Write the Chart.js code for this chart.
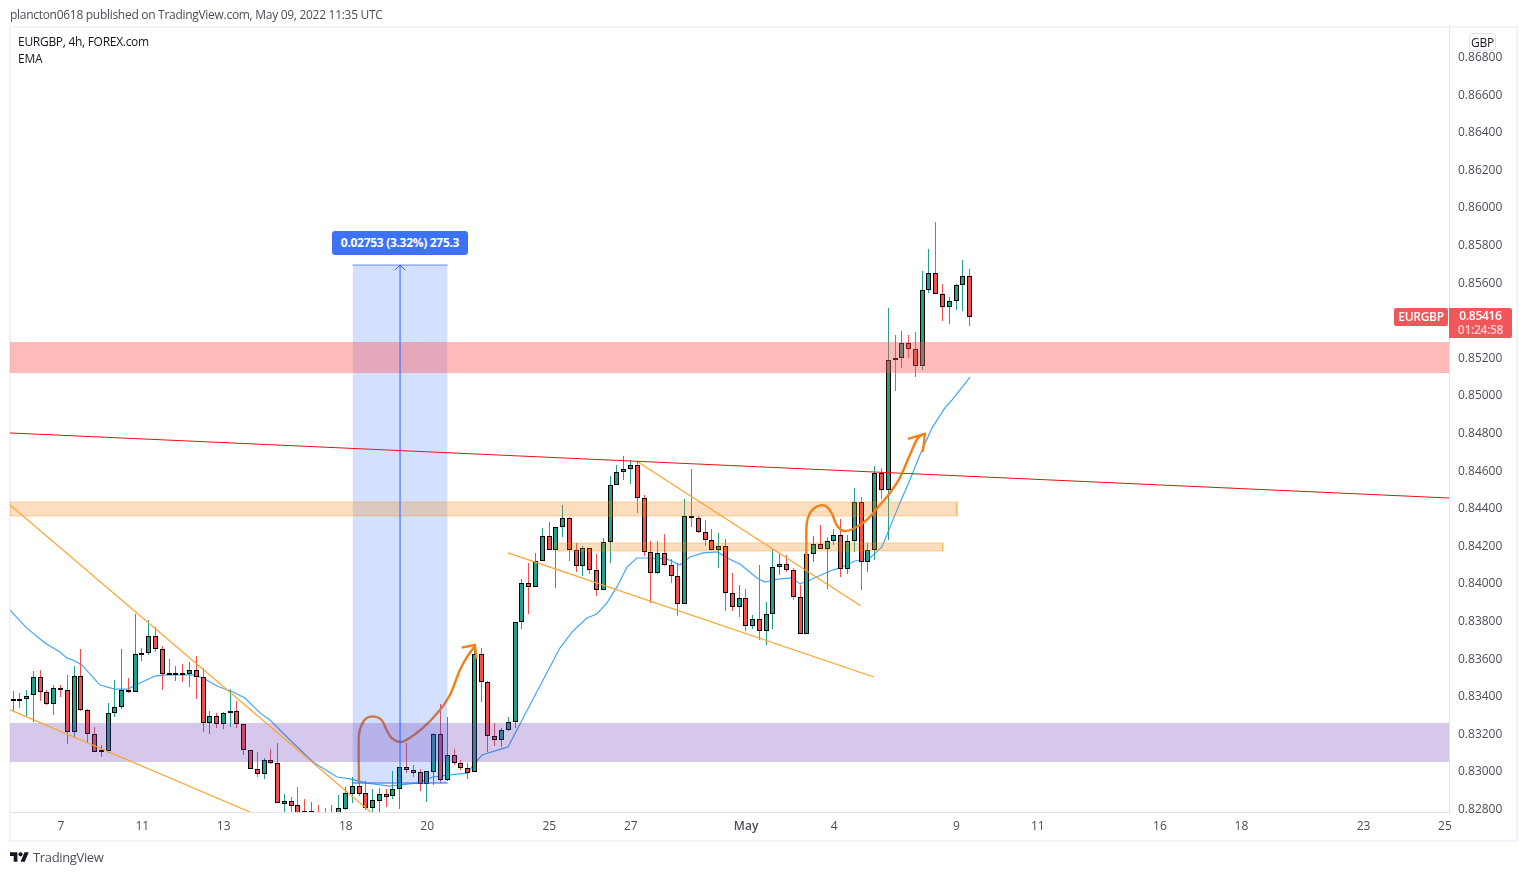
<!DOCTYPE html>
<html><head><meta charset="utf-8">
<script src="https://cdn.jsdelivr.net/npm/chart.js@4"></script>
<style>
html,body{margin:0;padding:0;background:#fff;width:1527px;height:875px;overflow:hidden;font-family:"Open Sans",sans-serif}
#frame{position:absolute;left:9px;top:26px;width:1505px;height:812px;border:2px solid #f0f3fa}
canvas{position:absolute;left:0;top:0}
.t{position:absolute;white-space:nowrap;font-size:12px;line-height:16px;color:#4a4e5a;letter-spacing:-.29px}
.b{position:absolute;text-align:center;white-space:nowrap;font-size:12px;color:#fff;box-sizing:border-box;letter-spacing:-.3px}
</style></head><body>
<div id="frame"></div>
<canvas id="c" width="1527" height="875"></canvas>
<div class="t" style="left:10px;top:7px">plancton0618 published on TradingView.com, May 09, 2022 11:35 UTC</div>
<div class="t" style="left:18px;top:34px;color:#131722">EURGBP, 4h, FOREX.com</div>
<div class="t" style="left:18px;top:51px;color:#131722">EMA</div>
<div class="b" style="left:1469px;top:33px;width:27px;height:18px;line-height:17px;background:#fff;border:1px solid #e0e3eb;border-radius:4px;color:#131722">GBP</div>
<div class="b" style="left:332px;top:231px;width:136px;height:24px;line-height:23px;background:#3d72f5;border-radius:3px;font-weight:700">0.02753 (3.32%) 275.3</div>
<div class="b" style="left:1394px;top:308px;width:54px;height:18px;line-height:18px;background:#f0565a;border-radius:2px;font-weight:600">EURGBP</div>
<div class="b" style="left:1449px;top:308px;width:63px;height:30px;background:#f0565a;border-radius:0 2px 2px 0;line-height:14px;padding-top:1px;font-weight:600">0.85416<br><span style="opacity:.72">01:24:58</span></div>
<svg style="position:absolute;left:10px;top:852px" width="19" height="11" viewBox="0 0 36 20"><path fill="#131722" d="M14 18H7V7H0V0h14zM28 18h-8L27.5 0h8z"/><circle cx="20" cy="4" r="4" fill="#131722"/></svg>
<div class="t" style="left:33px;top:849px;font-size:13px;color:#4a4e5a;letter-spacing:-.35px">TradingView</div>
<script>
const opens=[.83382,.83385,.83382,.83403,.83499,.83419,.83355,.83440,.83430,.83210,.83504,.83323,.83195,.83105,.83109,.83307,.83339,.83430,.83419,.83621,.83626,.83717,.83648,.83515,.83518,.83522,.83518,.83536,.83499,.83254,.83291,.83249,.83307,.83318,.83249,.83110,
.83010,.82986,.83057,.83044,.82826,.82838,.82817,.82785,.82781,.82784,.82766,.82760,.82757,.82799,.82879,.82920,.82881,.82805,.82842,.82876,.82865,.82902,.83019,.83003,.82993,.82931,.82996,.83197,.82950,.83083,.83044,.83014,.82993,.83620,.83471,.83184,.83163,.83216,.83259,
.83790,.83998,.83977,.84115,.84248,.84173,.84296,.84344,.84173,.84088,.84184,.84067,.83961,.84216,.84519,.84588,.84604,.84625,.84450,.84163,.84051,.84157,.84094,.84035,.83886,.84354,.84344,.84269,.84227,.84173,
.84195,.83945,.83874,.83918,.83769,.83806,.83742,.83833,.84083,.84099,.84067,.83923,.83727,.84152,.84205,.84182,.84221,.84253,.84072,.84221,.84429,.84109,.84173,.84583,.84492,
.85195,.85195,.85275,.85243,.85156,.85557,.85647,.85535,.85466,.85498,.85583,.85631];
const closes=[.83385,.83382,.83401,.83499,.83419,.83355,.83440,.83430,.83210,.83504,.83323,.83195,.83103,.83110,.83307,.83339,.83430,.83419,.83621,.83626,.83717,.83648,.83515,.83520,.83522,.83518,.83536,.83499,.83254,.83291,.83249,.83307,.83318,.83249,.83110,.83009,
.82986,.83057,.83044,.82828,.82838,.82815,.82775,.82778,.82785,.82778,.82750,.82775,.82801,.82881,.82920,.82879,.82803,.82844,.82876,.82863,.82902,.83021,.83003,.82991,.82931,.82998,.83197,.82950,.83083,.83044,.83014,.82991,.83620,.83471,.83184,.83163,.83216,.83259,.83791,
.83998,.83977,.84115,.84248,.84173,.84296,.84344,.84173,.84088,.84184,.84067,.83961,.84216,.84519,.84588,.84604,.84625,.84450,.84163,.84051,.84157,.84094,.84035,.83886,.84354,.84344,.84269,.84227,.84173,.84195,
.83945,.83874,.83918,.83769,.83806,.83742,.83833,.84083,.84099,.84067,.83923,.83727,.84152,.84205,.84182,.84221,.84253,.84072,.84221,.84429,.84109,.84173,.84583,.84492,.85184,
.85184,.85275,.85243,.85156,.85557,.85647,.85535,.85466,.85498,.85583,.85631,.85416];
const highs=[.83428,.83414,.83431,.83532,.83538,.83431,.83458,.83458,.83511,.83559,.83648,.83330,.83234,.83139,.83362,.83484,.83648,.83493,.83836,.83653,.83804,.83765,.83665,.83594,.83559,.83570,.83580,.83612,.83547,.83320,.83307,.83316,.83435,.83373,.83250,.83110,
.83103,.83071,.83115,.83147,.82878,.82860,.82913,.82851,.82833,.82819,.82801,.82817,.82872,.82916,.82966,.82934,.82948,.82904,.82909,.82904,.83002,.83021,.83151,.83030,.83010,.82998,.83204,.83356,.83287,.83115,.83058,.83044,.83670,.83654,.83479,.83255,.83227,.83285,.83791,
.84019,.84106,.84159,.84290,.84324,.84296,.84414,.84349,.84211,.84196,.84184,.84154,.84237,.84567,.84627,.84675,.84654,.84648,.84468,.84223,.84223,.84260,.84127,.84104,.84445,.84606,.84354,.84333,.84285,.84264,
.84234,.84053,.83989,.83968,.83829,.84095,.83897,.84179,.84157,.84149,.84078,.83989,.84152,.84250,.84308,.84242,.84287,.84340,.84255,.84505,.84457,.84211,.84622,.84609,.85463,
.85319,.85340,.85319,.85335,.85660,.85777,.85920,.85590,.85519,.85590,.85718,.85670];
const lows=[.83320,.83337,.83293,.83263,.83373,.83350,.83298,.83391,.83144,.83174,.83320,.83148,.83103,.83077,.83094,.83289,.83328,.83414,.83419,.83586,.83617,.83635,.83431,.83511,.83479,.83474,.83445,.83383,.83210,.83197,.83229,.83224,.83236,.83229,.83086,.83009,
.82970,.82959,.83037,.82828,.82784,.82784,.82757,.82757,.82760,.82755,.82740,.82745,.82745,.82792,.82831,.82869,.82792,.82784,.82784,.82810,.82853,.82799,.82987,.82970,.82895,.82837,.82925,.82938,.82947,.83032,.83005,.82957,.82993,.83369,.83103,.83133,.83129,.83213,.83230,
.83755,.83836,.83977,.84115,.84173,.83975,.84242,.84118,.84058,.84037,.84047,.83932,.83961,.84108,.84519,.84547,.84526,.84374,.84143,.83895,.84047,.84088,.84000,.83826,.83886,.84297,.84264,.84196,.84173,.84079,
.83851,.83851,.83819,.83744,.83755,.83696,.83670,.83755,.84042,.84060,.83909,.83727,.83727,.84113,.84182,.83968,.84202,.84031,.84046,.84166,.83964,.84060,.84122,.84445,.84228,
.85021,.85145,.85197,.85097,.85133,.85541,.85535,.85394,.85378,.85454,.85449,.85367];

const emaIndex=[-0.5,1.96,4.66,6.87,7.86,8.79,10.11,12.76,14.97,16.89,18.66,20.87,22.64,26.47,27.95,30.01,32.37,34.14,36.35,37.82,40.77,44.16,47.7,49.61,52.12,55.5,56.98,59.49,61.84,64.35,66.85,69.06,72.9,76.14,80.56,82.33,84.54,86.01,87.49,88.96,90.44,91.91,93.39,96.34,98.25,99.73,101.64,103.85,105.17,107.09,109.6,110.78,112.69,114.76,115.94,117.41,120.36,121.83,124.04,126.25,128.02,130.67,132.14,133.62,135.39,137.3,138.34,141];
const emaValues=[.83856,.83761,.83681,.83633,.83601,.83590,.83564,.83457,.83436,.83436,.83468,.83505,.83511,.83511,.83495,.83452,.83420,.83388,.83309,.83271,.83165,.83048,.82968,.82958,.82936,.82920,.82926,.82936,.82968,.82979,.82989,.83085,.83128,.83351,.83654,.83739,.83814,.83835,.83894,.83979,.84085,.84133,.84133,.84128,.84096,.84138,.84160,.84165,.84133,.84101,.84027,.84005,.84021,.84027,.83995,.84016,.84064,.84080,.84117,.84133,.84192,.84426,.84548,.84681,.84824,.84931,.84973,.85095];

const xLeft=-0.49, xRight=211.6, yMin=0.82782, yMax=0.86957;
const yTickValues=[.828,.83,.832,.834,.836,.838,.84,.842,.844,.846,.848,.85,.852,.854,.856,.858,.86,.862,.864,.866,.868];
const xTickIndex=[7,19,31,49,61,79,91,108,121,139,151,169,181,199,211];
const xTickLabels=['7','11','13','18','20','25','27','May','4','9','11','16','18','23','25'];

const redZone=[xLeft,xRight,.85117,.85282];
const purpleZone=[xLeft,xRight,.83048,.83255];
const orangeZoneA=[xLeft,139.07,.84356,.84431];
const orangeZoneB=[79.83,137,.84170,.84213];
const measureZone=[50,64,.82936,.85691];
const measureMid=57;

const redLine=[[xLeft,.84798],[xRight,.84452]];
const wedgeUpper=[[xLeft,.84415],[52.66,.82782]];
const wedgeLower=[[xLeft,.83325],[34.87,.82782]];
const flagLower=[[72.9,.84160],[126.84,.83500]];
const flagUpper=[[92.01,.84645],[124.88,.83879]];
const curveA=[[50.94,.82936],[50.94,.83192],[51.33,.83245],[52.07,.83282],[53.29,.83289],[54.28,.83271],[55.02,.83218],[55.76,.83176],[56.98,.83154],[58.16,.83170],[60.37,.83229],[62.88,.83325],[64.35,.83404],[65.82,.83537],[66.85,.83606],[68.03,.83665]];
const headA=[[66.07,.83656],[68.03,.83670],[68.28,.83596]];
const curveB=[[116.92,.84069],[116.92,.84309],[117.41,.84372],[118.4,.84406],[119.62,.84411],[120.61,.84372],[121.34,.84309],[122.27,.84278],[123.74,.84287],[125.76,.84335],[127.73,.84415],[129.2,.84479],[130.67,.84559],[132.14,.84681],[133.32,.84771],[134.21,.84793]];
const headB=[[131.85,.84766],[134.36,.84793],[134.06,.84697]];

const UP='#22a08c',DOWN='#f44f4c',ORANGE='#ffa12e',PEN='#f57f17',BLUE='#2962ff';
const pts=a=>a.map(p=>({x:p[0],y:p[1]}));
const line=(data,color,width,order,extra)=>Object.assign({type:'line',data:pts(data),borderColor:color,borderWidth:width,order,fill:false,pointRadius:0},extra||{});
const zone=(z,color,order)=>({type:'line',data:[{x:z[0],y:z[3]},{x:z[1],y:z[3]}],borderWidth:0,borderColor:'transparent',backgroundColor:color,fill:{value:z[2]},order,pointRadius:0});
const outline=(z,color,order)=>line([[z[0],z[3]],[z[1],z[3]],[z[1],z[2]],[z[0],z[2]],[z[0],z[3]]],color,1,order);
const idx=opens.map((_,i)=>i);
const col=idx.map(i=>closes[i]>=opens[i]?UP:DOWN);

const datasets=[
 {type:'line',label:'EMA',data:emaIndex.map((x,i)=>({x,y:emaValues[i]})),borderColor:'#42a5f5',borderWidth:1.2,order:7,fill:false,pointRadius:0},
 {type:'bar',label:'wick',data:idx.map(i=>({x:i,y:[lows[i],highs[i]]})),backgroundColor:col,borderWidth:0,barThickness:1,grouped:false,order:6,inflateAmount:0},
 {type:'bar',label:'EURGBP',data:idx.map(i=>({x:i,y:[opens[i],closes[i]]})),backgroundColor:col,borderColor:'#000',borderWidth:1,borderSkipped:false,barThickness:5,grouped:false,order:5,inflateAmount:0},
 line(curveA,PEN,2.4,4.5,{tension:.3}),
 line(headA,PEN,2.4,4.5),
 zone(redZone,'rgba(255,82,82,.4)',4),
 zone(purpleZone,'rgba(103,58,183,.28)',4),
 zone(orangeZoneA,'rgba(245,124,0,.25)',4),
 zone(orangeZoneB,'rgba(245,124,0,.25)',4),
 outline(orangeZoneA,'rgba(255,152,0,.35)',4),
 outline(orangeZoneB,'rgba(255,152,0,.35)',4),
 zone(measureZone,'rgba(41,98,255,.2)',4),
 line([[measureZone[0],measureZone[2]],[measureZone[1],measureZone[2]]],BLUE,1,3),
 line([[measureZone[0],measureZone[3]],[measureZone[1],measureZone[3]]],'rgba(41,98,255,.7)',1,3),
 line([[measureMid,measureZone[2]],[measureMid,measureZone[3]]],BLUE,1,3),
 line([[measureMid-.75,.85664],[measureMid,measureZone[3]],[measureMid+.75,.85664]],BLUE,1,3),
 line(redLine,'#f00f0f',1,3),
 line(wedgeUpper,ORANGE,1.2,3),
 line(wedgeLower,ORANGE,1.2,3),
 line(flagLower,ORANGE,1.2,3),
 line(flagUpper,ORANGE,1.2,3),
 line(curveB,PEN,2.4,1,{tension:.3}),
 line(headB,PEN,2.4,1)
];

// Keep candles on whole device pixels, as the original does: positions still come from the scales.
const crispCandles={id:'crispCandles',beforeDatasetsDraw(chart){
 chart.data.datasets.forEach((d,i)=>{
  if(d.type!=='bar')return;
  chart.getDatasetMeta(i).data.forEach(el=>{
   el.x=Math.floor(el.x-.3)+.5;
   el.y=Math.round(el.y);
   el.base=Math.round(el.base);
   if(d.label==='EURGBP'&&Math.abs(el.base-el.y)<2){el.base=el.y+2;}
  });
 });
}};

new Chart(document.getElementById('c'),{
 type:'bar',
 data:{datasets},
 plugins:[crispCandles],
 options:{
  responsive:false,animation:false,devicePixelRatio:1,
  layout:{padding:{left:10,top:27,right:10,bottom:35}},
  plugins:{legend:{display:false},tooltip:{enabled:false}},
  scales:{
   x:{type:'linear',min:xLeft,max:xRight,offset:false,
      grid:{display:false,drawTicks:false},border:{color:'#e0e3eb'},
      afterBuildTicks:s=>{s.ticks=xTickIndex.map(v=>({value:v}));},
      afterFit:s=>{s.height=28;},
      ticks:{autoSkip:false,maxRotation:0,padding:7,color:'#4a4e5a',
        font:c=>({family:'"Open Sans"',size:12,weight:c.tick&&c.tick.value===108?'600':'400'}),
        callback:v=>xTickLabels[xTickIndex.indexOf(v)]}},
   y:{type:'linear',position:'right',min:yMin,max:yMax,
      grid:{display:false,drawTicks:false},border:{color:'#e0e3eb'},
      afterBuildTicks:s=>{s.ticks=yTickValues.map(v=>({value:v}));},
      afterFit:s=>{s.width=68;},
      ticks:{padding:9,labelOffset:1,color:'#4a4e5a',font:{family:'"Open Sans"',size:12},autoSkip:false,callback:v=>v.toFixed(5)}}
  }
 }
});
</script>
</body></html>
